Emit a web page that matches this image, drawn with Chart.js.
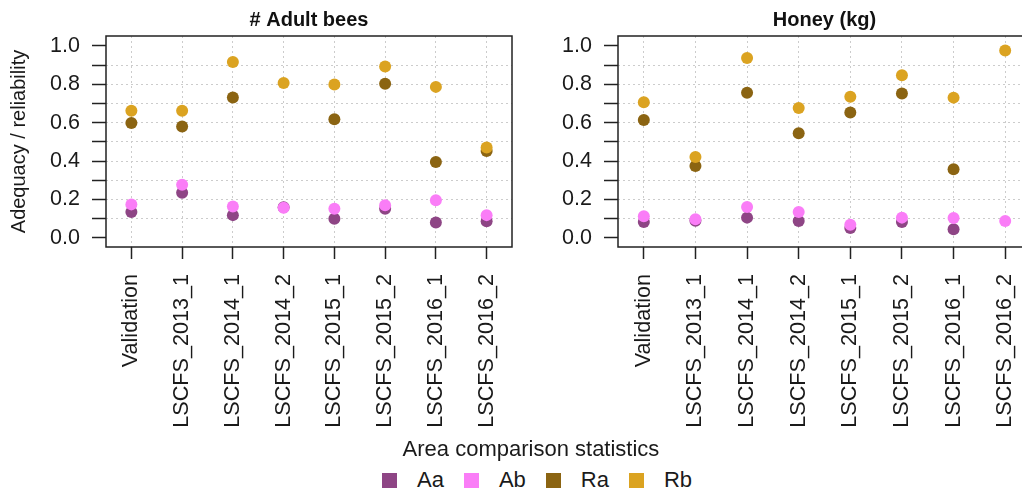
<!DOCTYPE html>
<html><head><meta charset="utf-8">
<script src="https://cdn.jsdelivr.net/npm/chart.js@4/dist/chart.umd.min.js"></script>
<style>
html,body{margin:0;padding:0;background:#fff;overflow:hidden;width:1022px;height:491px;}
#wrap{position:relative;width:1022px;height:491px;overflow:hidden;font-family:"Liberation Sans",Arial,sans-serif;color:#1a1a1a}
canvas{position:absolute;top:0}
#c1{left:0}
#c2{left:512px}
#legtitle{position:absolute;left:0;width:1062px;top:436px;text-align:center;font-size:22px;line-height:26px;white-space:nowrap}
#legend{position:absolute;left:382px;top:469px;display:flex;align-items:center;font-size:22px;line-height:22px;white-space:nowrap}
.item{display:flex;align-items:center;margin-right:20px}
.sw{width:15px;height:15px;margin-right:20px}
</style>
</head><body>
<div id="wrap">
<canvas id="c1" width="530" height="440"></canvas>
<canvas id="c2" width="545" height="440"></canvas>
<div id="legtitle">Area comparison statistics</div>
<div id="legend"></div>
</div>
<script>
const categories = ['Validation','LSCFS_2013_1','LSCFS_2014_1','LSCFS_2014_2','LSCFS_2015_1','LSCFS_2015_2','LSCFS_2016_1','LSCFS_2016_2'];
const seriesNames = ['Aa','Ab','Ra','Rb'];
const seriesColors = ['#8E4585','#FA7DF7','#8B6412','#DBA321'];
const yTickValues = [0,0.1,0.2,0.3,0.4,0.5,0.6,0.7,0.8,0.9,1.0];
const yTickLabels = ['0.0','','0.2','','0.4','','0.6','','0.8','','1.0'];

// null = point fully hidden under another series' marker in the reference
const beesAa = [0.135,0.235,0.119,0.160,0.100,0.152,0.080,0.087];
const beesAb = [0.175,0.277,0.164,0.157,0.152,0.171,0.197,0.119];
const beesRa = [0.599,0.581,0.732,null,0.619,0.803,0.396,0.453];
const beesRb = [0.663,0.663,0.917,0.807,0.799,0.893,0.787,0.471];

const honeyAa = [0.083,0.090,0.106,0.089,0.052,0.083,0.045,null];
const honeyAb = [0.113,0.097,0.161,0.135,0.069,0.106,0.104,0.089];
const honeyRa = [0.615,0.375,0.757,0.545,0.653,0.753,0.358,null];
const honeyRb = [0.707,0.422,0.938,0.677,0.736,0.847,0.731,0.977];

const FONT = '"Liberation Sans", Arial, sans-serif';
const INK = '#1a1a1a';

const panelPlugin = {
  id: 'panel',
  afterDraw(chart, args, opts) {
    const {ctx, chartArea: a} = chart;
    ctx.save();
    ctx.strokeStyle = '#222';
    ctx.lineWidth = 1.5;
    ctx.setLineDash([]);
    ctx.strokeRect(a.left, a.top, a.right - a.left, a.bottom - a.top);
    ctx.fillStyle = '#111';
    ctx.font = 'bold 20px ' + FONT;
    ctx.textAlign = 'center';
    ctx.textBaseline = 'middle';
    ctx.fillText(opts.text, (a.left + a.right) / 2, 20);
    ctx.restore();
  }
};

function makeChart(id, title, series, padRight, showYTitle) {
  const datasets = series.map((d, i) => ({
    label: seriesNames[i],
    data: d,
    showLine: false,
    spanGaps: false,
    pointRadius: 6,
    pointHoverRadius: 6,
    pointBorderWidth: 0,
    backgroundColor: seriesColors[i],
    borderColor: seriesColors[i],
    order: 4 - i
  }));
  return new Chart(document.getElementById(id), {
    type: 'line',
    data: { labels: categories, datasets },
    plugins: [panelPlugin],
    options: {
      responsive: false,
      animation: false,
      events: [],
      layout: { padding: { left: 0, top: 36, right: padRight, bottom: 0 } },
      plugins: { legend: { display: false }, tooltip: { enabled: false }, panel: { text: title } },
      scales: {
        x: {
          type: 'category',
          offset: true,
          afterFit: s => { s.height = 193; },
          ticks: { autoSkip: false, minRotation: 90, maxRotation: 90, padding: 15, color: INK, font: { family: FONT, size: 21.6 } },
          grid: { offset: false, color: '#cccccc', lineWidth: 1, tickColor: '#222', tickLength: 12, tickWidth: 1.5, tickBorderDash: [] },
          border: { display: false, dash: [2, 3] }
        },
        y: {
          type: 'linear',
          min: -0.047,
          max: 1.052,
          afterBuildTicks: s => { s.ticks = yTickValues.map(v => ({ value: v })); },
          afterFit: s => { s.width = 106; },
          ticks: { autoSkip: false, padding: 12, color: INK, font: { family: FONT, size: 21.5 },
                   callback: (v, i) => yTickLabels[i] },
          grid: {
            color: c => (c.tick && c.tick.value > 0.05 && c.tick.value < 0.95) ? '#cccccc' : 'rgba(0,0,0,0)',
            lineWidth: 1, tickColor: '#222', tickLength: 14, tickWidth: 1.5, tickBorderDash: []
          },
          border: { display: false, dash: [2, 3] },
          title: { display: showYTitle, text: 'Adequacy / reliability', color: INK,
                   font: { family: FONT, size: 20 }, padding: { top: 7, bottom: 0 } }
        }
      }
    }
  });
}

makeChart('c1', '# Adult bees', [beesAa, beesAb, beesRa, beesRb], 18, true);
makeChart('c2', 'Honey (kg)', [honeyAa, honeyAb, honeyRa, honeyRb], 26, false);

const leg = document.getElementById('legend');
seriesNames.forEach((n, i) => {
  const it = document.createElement('div');
  it.className = 'item';
  const sw = document.createElement('div');
  sw.className = 'sw';
  sw.style.background = seriesColors[i];
  const tx = document.createElement('span');
  tx.textContent = n;
  it.appendChild(sw); it.appendChild(tx);
  leg.appendChild(it);
});
</script>
</body></html>
